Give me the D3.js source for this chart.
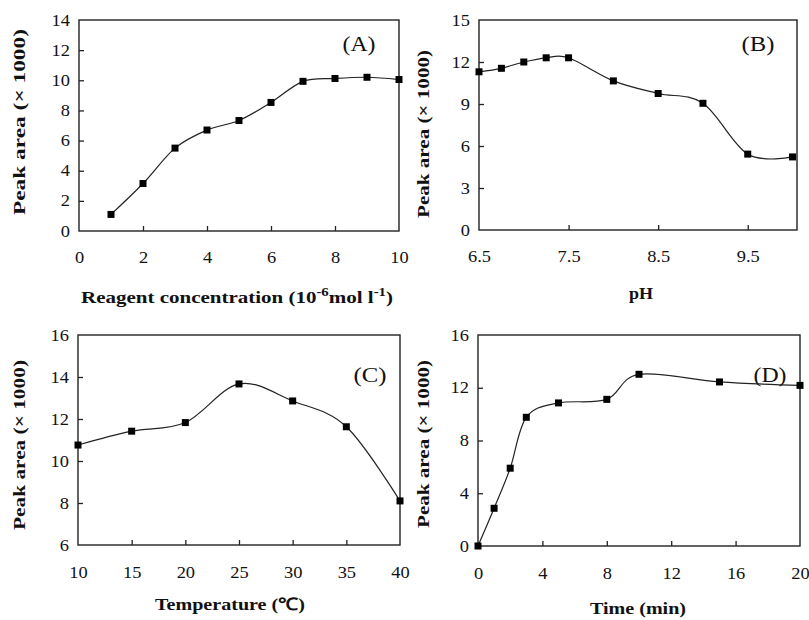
<!DOCTYPE html>
<html>
<head>
<meta charset="utf-8">
<script src="https://cdn.jsdelivr.net/npm/d3@7"></script>
<style>
  body { margin: 0; background: #fff; }
  text { font-family: "Liberation Serif", "Times New Roman", serif; fill: #111; }
</style>
</head>
<body>
<div id="main-container"></div>
<script>
// (A) reagent concentration
const concX = [1, 2, 3, 4, 5, 6, 7, 8, 9, 10];
const concArea = [1.1, 3.15, 5.5, 6.7, 7.33, 8.53, 9.93, 10.12, 10.2, 10.05];
const concXTicks = [0, 2, 4, 6, 8, 10];
const concYTicks = [0, 2, 4, 6, 8, 10, 12, 14];

// (B) pH
const phX = [6.5, 6.75, 7.0, 7.25, 7.5, 8.0, 8.5, 9.0, 9.5, 10.0];
const phArea = [11.3, 11.55, 12.0, 12.3, 12.3, 10.65, 9.75, 9.05, 5.42, 5.22];
const phXTicks = [6.5, 7.5, 8.5, 9.5];
const phYTicks = [0, 3, 6, 9, 12, 15];

// (C) temperature
const tempX = [10, 15, 20, 25, 30, 35, 40];
const tempArea = [10.76, 11.42, 11.83, 13.67, 12.86, 11.63, 8.1];
const tempXTicks = [10, 15, 20, 25, 30, 35, 40];
const tempYTicks = [6, 8, 10, 12, 14, 16];

// (D) time
const timeX = [0, 1, 2, 3, 5, 8, 10, 15, 20];
const timeArea = [0, 2.86, 5.9, 9.76, 10.85, 11.12, 13.02, 12.44, 12.18];
const timeXTicks = [0, 4, 8, 12, 16, 20];
const timeYTicks = [0, 4, 8, 12, 16];

const svg = d3.select("#main-container")
    .append("svg")
    .attr("width", 809)
    .attr("height", 620);

// widen text a bit, the original figure is stretched sideways
function stretch(sel, k) {
    sel.each(function () {
        const len = this.getComputedTextLength();
        d3.select(this).attr("textLength", len * k).attr("lengthAdjust", "spacingAndGlyphs");
    });
}

function drawPanel(p) {
    const x = d3.scaleLinear().domain(p.xDomain).range([p.left, p.right]);
    const y = d3.scaleLinear().domain(p.yDomain).range([p.bottom, p.top]);
    const g = svg.append("g");

    // axes with inward ticks
    const ya = g.append("g")
        .attr("transform", "translate(" + p.left + ",0)")
        .call(d3.axisLeft(y).tickValues(p.yTicks).tickSize(-5).tickSizeOuter(0).tickPadding(9));
    const xa = g.append("g")
        .attr("transform", "translate(0," + p.bottom + ")")
        .call(d3.axisBottom(x).tickValues(p.xTicks).tickSize(-5).tickSizeOuter(0)
            .tickPadding(p.xPad).tickFormat(p.xFormat || d3.format("d")));
    [ya, xa].forEach(a => {
        a.attr("font-family", "Liberation Serif").attr("font-size", 16);
        a.select(".domain").remove();
        a.selectAll(".tick line").attr("stroke", "#222").attr("stroke-width", 1.3);
        a.selectAll(".tick text").attr("fill", "#111");
        stretch(a.selectAll(".tick text"), 1.15);
    });
    // no tick marks on the frame corners
    xa.selectAll(".tick line").filter(d => d === p.xDomain[0] || d >= p.xDomain[1]).remove();
    ya.selectAll(".tick line").filter(d => d === p.yDomain[0] || d === p.yDomain[1]).remove();

    g.append("rect")
        .attr("x", p.left).attr("y", p.top)
        .attr("width", p.right - p.left).attr("height", p.bottom - p.top)
        .attr("fill", "none").attr("stroke", "#222").attr("stroke-width", 1.4);

    const pts = p.xs.map((v, i) => [v, p.ys[i]]);
    const line = d3.line()
        .x(d => x(d[0])).y(d => y(d[1]))
        .curve(d3.curveCatmullRom.alpha(0));
    g.append("path")
        .attr("d", line(pts))
        .attr("fill", "none")
        .attr("stroke", "#222")
        .attr("stroke-width", 1.2);

    g.selectAll("rect.pt").data(pts).enter().append("rect")
        .attr("class", "pt")
        .attr("x", d => x(d[0]) - 3.5)
        .attr("y", d => y(d[1]) - 3.5)
        .attr("width", 7).attr("height", 7)
        .attr("fill", "#000");

    g.append("text")
        .attr("x", p.tagX).attr("y", p.tagY)
        .attr("text-anchor", "middle")
        .attr("textLength", 33).attr("lengthAdjust", "spacingAndGlyphs")
        .style("font-size", "20px")
        .text(p.tag);

    g.append("text")
        .attr("transform", "translate(" + p.yTitleX + "," + p.yTitleY + ") rotate(-90)")
        .attr("text-anchor", "middle")
        .attr("textLength", p.yTitleLen).attr("lengthAdjust", "spacingAndGlyphs")
        .style("font-size", "17px")
        .style("font-weight", "bold")
        .text("Peak area (\u00D7 1000)");

    const t = g.append("text")
        .attr("x", p.xTitleX).attr("y", p.xTitleY)
        .attr("text-anchor", "middle")
        .attr("textLength", p.xTitleLen).attr("lengthAdjust", "spacingAndGlyphs")
        .style("font-size", "17px")
        .style("font-weight", "bold");
    p.xTitle(t);
}

drawPanel({
    left: 79, right: 399, top: 20, bottom: 231,
    xDomain: [0, 10], yDomain: [0, 14],
    xTicks: concXTicks, yTicks: concYTicks, xPad: 21,
    xs: concX, ys: concArea,
    tag: "(A)", tagX: 359, tagY: 51,
    yTitleX: 25, yTitleY: 122, yTitleLen: 186,
    xTitleX: 237, xTitleY: 303, xTitleLen: 312,
    xTitle: t => {
        t.append("tspan").text("Reagent concentration (10");
        t.append("tspan").attr("dy", -7).style("font-size", "12px").text("-6");
        t.append("tspan").attr("dy", 7).text("mol l");
        t.append("tspan").attr("dy", -7).style("font-size", "12px").text("-1");
        t.append("tspan").attr("dy", 7).text(")");
    }
});

drawPanel({
    left: 479, right: 797, top: 20, bottom: 230,
    xDomain: [6.5, 10.05], yDomain: [0, 15],
    xTicks: phXTicks, yTicks: phYTicks, xPad: 21, xFormat: d3.format(".1f"),
    xs: phX, ys: phArea,
    tag: "(B)", tagX: 758, tagY: 51,
    yTitleX: 429, yTitleY: 134, yTitleLen: 168,
    xTitleX: 641, xTitleY: 299, xTitleLen: 24,
    xTitle: t => t.text("pH")
});

drawPanel({
    left: 78, right: 400, top: 335, bottom: 545,
    xDomain: [10, 40], yDomain: [6, 16],
    xTicks: tempXTicks, yTicks: tempYTicks, xPad: 22,
    xs: tempX, ys: tempArea,
    tag: "(C)", tagX: 370, tagY: 382,
    yTitleX: 25, yTitleY: 445, yTitleLen: 170,
    xTitleX: 230, xTitleY: 610, xTitleLen: 150,
    xTitle: t => t.text("Temperature (\u2103)")
});

drawPanel({
    left: 478, right: 800, top: 335, bottom: 546,
    xDomain: [0, 20], yDomain: [0, 16],
    xTicks: timeXTicks, yTicks: timeYTicks, xPad: 22,
    xs: timeX, ys: timeArea,
    tag: "(D)", tagX: 770, tagY: 382,
    yTitleX: 429, yTitleY: 444, yTitleLen: 168,
    xTitleX: 638, xTitleY: 614, xTitleLen: 96,
    xTitle: t => t.text("Time (min)")
});
</script>
</body>
</html>
